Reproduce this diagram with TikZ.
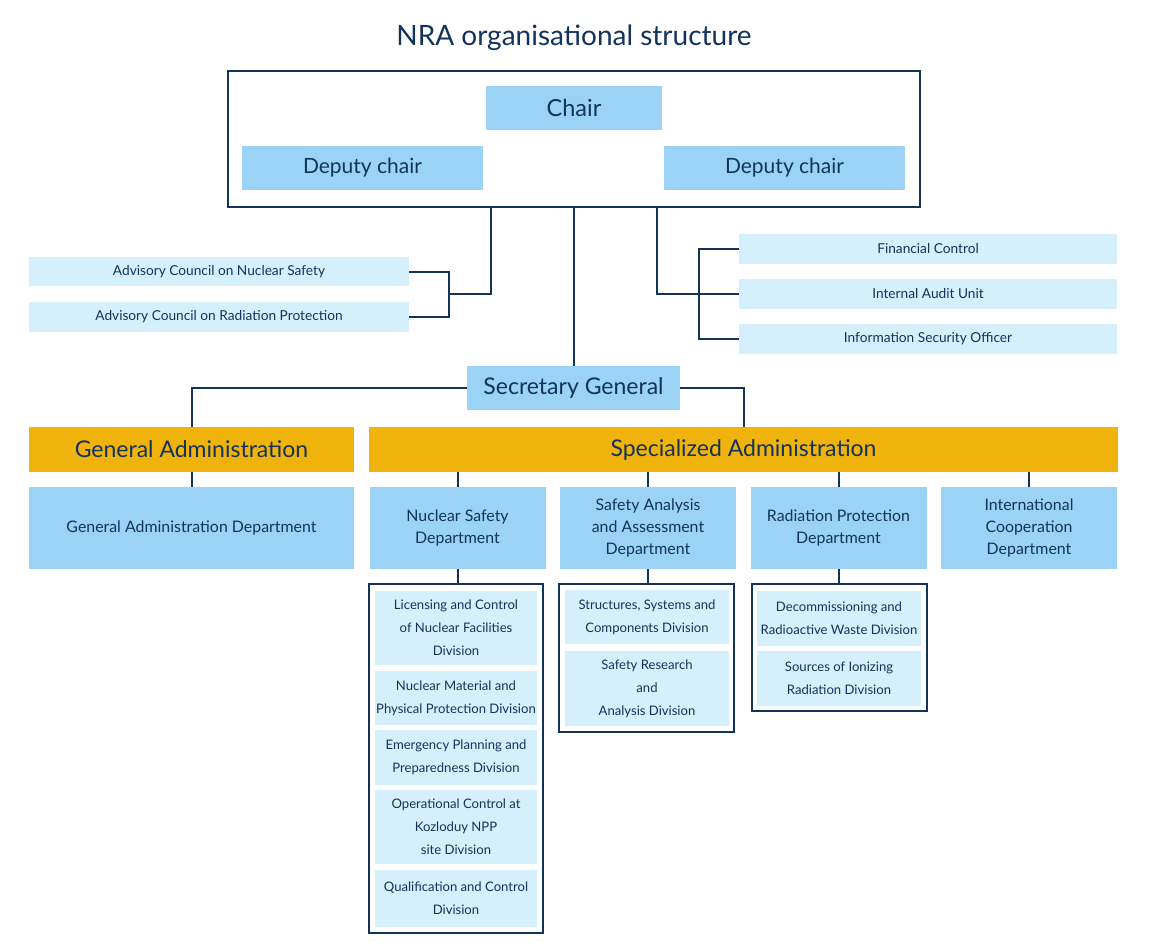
\documentclass[tikz,border=0pt]{standalone}
\usepackage{fontspec}
\setmainfont{Lato}
\usetikzlibrary{positioning}
\definecolor{navy}{HTML}{13335A}
\definecolor{deptblue}{HTML}{9AD3F5}
\definecolor{paleblue}{HTML}{D6EFFC}
\definecolor{gold}{HTML}{EFB30C}
\begin{document}
\begin{tikzpicture}[x=1pt,y=-1pt,
  every node/.style={text=navy, inner sep=0pt, align=center},
  headbox/.style={fill=deptblue, minimum height=44pt, font=\fontsize{21}{25}\selectfont},
  smallbox/.style={fill=paleblue, minimum width=#1, minimum height=30pt, font=\fontsize{13.7}{16}\selectfont},
  adminbox/.style={fill=gold, minimum height=45pt, font=\fontsize{23}{27}\selectfont},
  deptbox/.style={fill=deptblue, minimum width=176pt, minimum height=82pt, font=\fontsize{15.9}{22}\selectfont},
  divbox/.style={fill=paleblue, minimum width=#1, font=\fontsize{13.1}{23}\selectfont},
  frame/.style={draw=navy, line width=2pt, fill=white},
  link/.style={draw=navy, line width=2pt}]
\useasboundingbox (0,0) rectangle (1150,950);

% title and board
\node (title) at (574,38) {\fontsize{28}{32}\selectfont NRA organisational structure};
\node[frame, minimum width=692pt, minimum height=136pt] (board) at (574,139) {};
\node[headbox, minimum width=176pt, font=\fontsize{23.5}{28}\selectfont] (chair) at (574,108) {Chair};
\node[headbox, minimum width=241pt] (deputyl) at (362.5,168) {Deputy chair};
\node[headbox, minimum width=241pt] (deputyr) at (784.5,168) {Deputy chair};

% advisory councils and control units
\node[smallbox=380pt, minimum height=29pt] (acns) at (219,271.5) {Advisory Council on Nuclear Safety};
\node[smallbox=380pt] (acrp) at (219,317) {Advisory Council on Radiation Protection};
\node[smallbox=378pt] (finctl) at (928,249) {Financial Control};
\node[smallbox=378pt] (audit) at (928,294) {Internal Audit Unit};
\node[smallbox=378pt] (infosec) at (928,339) {Information Security Officer};

\coordinate (kneel) at (491,294);
\coordinate (kneer) at (657,294);
\coordinate (busl) at (449,294);
\coordinate (busr) at (699,294);
\draw[link] (board.south -| kneel) -- (kneel) -- (busl);
\draw[link] (acns.east) -| (busl) |- (acrp.east);
\draw[link] (board.south -| kneer) -- (kneer) -- (audit.west);
\draw[link] (finctl.west) -| (busr) |- (infosec.west);

% secretary general and administrations
\node[headbox, minimum width=213pt, font=\fontsize{23}{27}\selectfont] (secgen) at (573.5,388) {Secretary General};
\node[adminbox, minimum width=325pt] (genadm) at (191.5,449.5) {General Administration};
\node[adminbox, minimum width=749pt] (specadm) at (743.5,449.5) {Specialized Administration};
\draw[link] (board.south) -- (board.south |- secgen.north);
\draw[link] (secgen.west) -| (genadm.north);
\draw[link] (secgen.east) -| (specadm.north);

% departments
\node[deptbox, minimum width=325pt] (gadept) at (191.5,528) {General Administration Department};
\node[deptbox] (nsdept) at (457.5,528) {Nuclear Safety\\Department};
\node[deptbox] (sadept) at (648,528) {Safety Analysis\\and Assessment\\Department};
\node[deptbox] (rpdept) at (838.5,528) {Radiation Protection\\Department};
\node[deptbox] (icdept) at (1029,528) {International\\Cooperation\\Department};
\draw[link] (genadm.south) -- (gadept.north);
\foreach \d in {nsdept,sadept,rpdept,icdept}
  \draw[link] (specadm.south -| \d.north) -- (\d.north);

% divisions
\node[frame, minimum width=174pt, minimum height=349pt] (nsframe) at (456,758.5) {};
\node[frame, minimum width=175pt, minimum height=148pt] (saframe) at (646.5,658) {};
\node[frame, minimum width=175pt, minimum height=127pt] (rpframe) at (839.5,647.5) {};
\draw[link] (nsdept.south) -- (nsdept.south |- nsframe.north);
\draw[link] (sadept.south) -- (sadept.south |- saframe.north);
\draw[link] (rpdept.south) -- (rpdept.south |- rpframe.north);

\node[divbox=162pt, minimum height=74pt] (nsdiva) at (456,628) {Licensing and Control\\of Nuclear Facilities\\Division};
\node[divbox=162pt, minimum height=54pt] (nsdivb) at (456,698) {Nuclear Material and\\Physical Protection Division};
\node[divbox=162pt, minimum height=55pt] (nsdivc) at (456,757.5) {Emergency Planning and\\Preparedness Division};
\node[divbox=162pt, minimum height=74pt] (nsdivd) at (456,827) {Operational Control at\\Kozloduy NPP\\site Division};
\node[divbox=162pt, minimum height=57pt] (nsdive) at (456,898.5) {Qualification and Control\\Division};
\node[divbox=164pt, minimum height=54pt] (sadiva) at (647,617) {Structures, Systems and\\Components Division};
\node[divbox=164pt, minimum height=75pt] (sadivb) at (647,688.5) {Safety Research\\and\\Analysis Division};
\node[divbox=164pt, minimum height=55pt] (rpdiva) at (839,618.5) {Decommissioning and\\Radioactive Waste Division};
\node[divbox=164pt, minimum height=55pt] (rpdivb) at (839,678.5) {Sources of Ionizing\\Radiation Division};
\end{tikzpicture}
\end{document}
